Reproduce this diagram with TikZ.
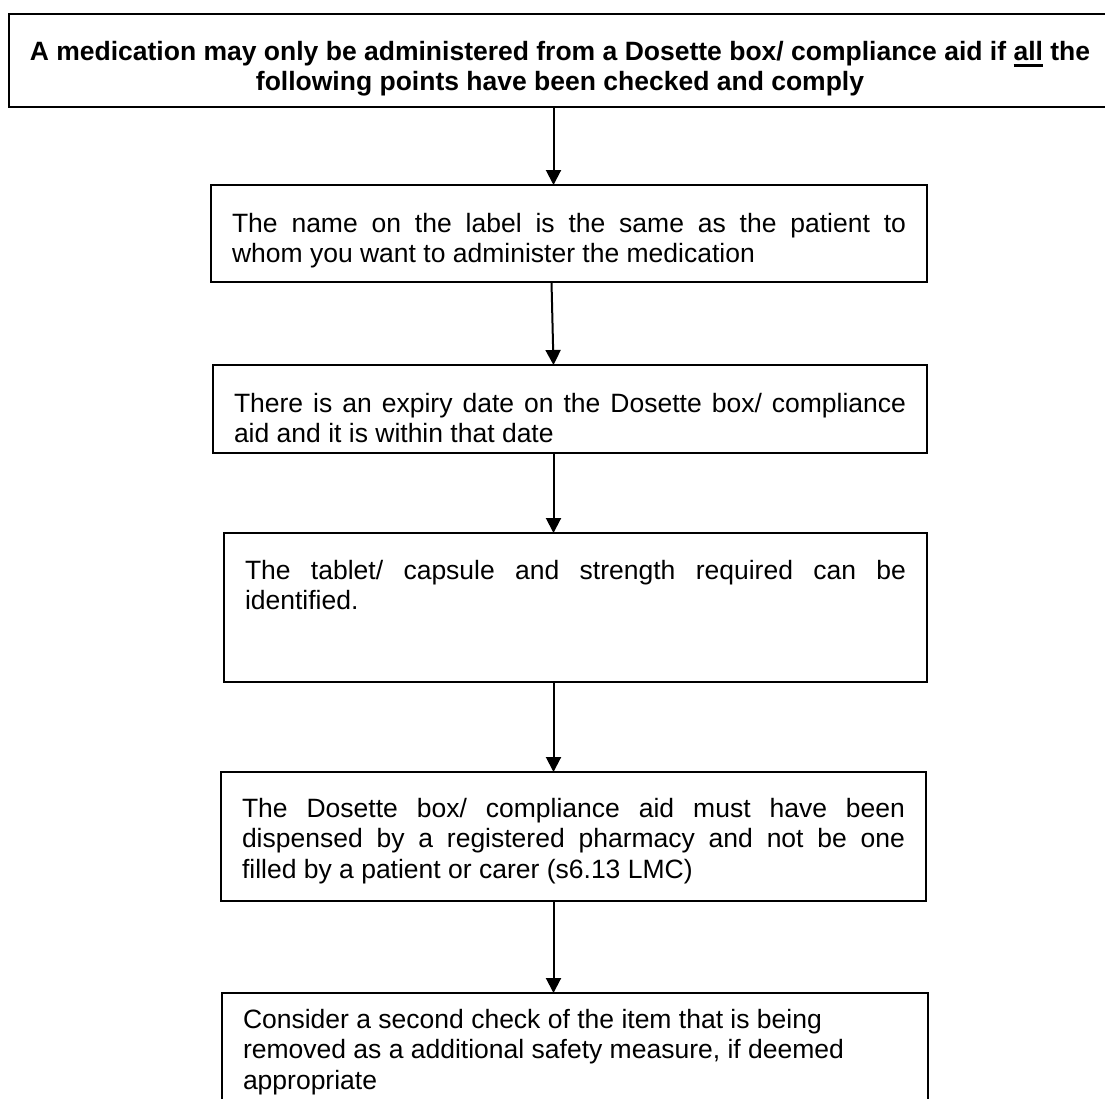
\documentclass[tikz,border=0pt]{standalone}
\usepackage{fontspec}
\setmainfont{Liberation Sans}
\usetikzlibrary{arrows.meta}
\newcommand\jln[2]{\hbox{\strut\makebox[#1][s]{#2}}}
\newcommand\lln[2]{\hbox{\strut\makebox[#1][l]{#2}}}
\newcommand\cln[2]{\hbox to #1{\hss\strut #2\hss}}
\newcommand\myul[1]{\setbox0\hbox{#1}\rlap{\rule[-6.5pt]{\wd0}{2.4pt}}\box0\relax}
\begin{document}
\begin{tikzpicture}[x=1pt,y=-1pt,
  box/.style={draw, line width=1.5pt, anchor=north west, inner xsep=21pt, inner ysep=0pt, outer sep=0pt,
    font=\fontsize{26.5}{30.5}\selectfont},
  arr/.style={line width=2pt, -{Triangle[width=15pt,length=15pt]}}]
\useasboundingbox (0,0) rectangle (1105,1098);
\clip (0,0) rectangle (1105,1098);

\coordinate (ax) at (553.5,0);
\coordinate (ax2) at (551.5,0);

\node[box, inner xsep=0pt, font=\fontsize{26.5}{30.5}\selectfont\bfseries] (top) at (9,14)
  {\vbox to 93pt{\vskip 24.65pt
   \cln{1102pt}{A medication may only be administered from a Dosette box/ compliance aid if \myul{all} the}
   \cln{1102pt}{following points have been checked and comply}\vss}};

\node[box] (b2) at (211,185)
  {\vbox to 97pt{\vskip 25.65pt
   \jln{674pt}{The name on the label is the same as the patient to}
   \lln{674pt}{whom you want to administer the medication}\vss}};

\node[box] (b3) at (213,365)
  {\vbox to 88pt{\vskip 25.65pt
   \jln{672pt}{There is an expiry date on the Dosette box/ compliance}
   \lln{672pt}{aid and it is within that date}\vss}};

\node[box] (b4) at (224,533)
  {\vbox to 149pt{\vskip 24.65pt
   \jln{661pt}{The tablet/ capsule and strength required can be}
   \lln{661pt}{identified.}\vss}};

\node[box] (b5) at (221,772)
  {\vbox to 129pt{\vskip 23.65pt
   \jln{663pt}{The Dosette box/ compliance aid must have been}
   \jln{663pt}{dispensed by a registered pharmacy and not be one}
   \lln{663pt}{filled by a patient or carer (s6.13 LMC)}\vss}};

\node[box] (b6) at (222,993)
  {\vbox to 108pt{\vskip 13.65pt
   \lln{664pt}{Consider a second check of the item that is being}
   \lln{664pt}{removed as a additional safety measure, if deemed}
   \lln{664pt}{appropriate}\vss}};

\draw[arr] (top.south -| ax) -- (b2.north -| ax);
\draw[arr] (b2.south -| ax2) -- (b3.north -| ax);
\draw[arr] (b3.south -| ax) -- (b4.north -| ax);
\draw[arr] (b4.south -| ax) -- (b5.north -| ax);
\draw[arr] (b5.south -| ax) -- (b6.north -| ax);
\end{tikzpicture}
\end{document}
